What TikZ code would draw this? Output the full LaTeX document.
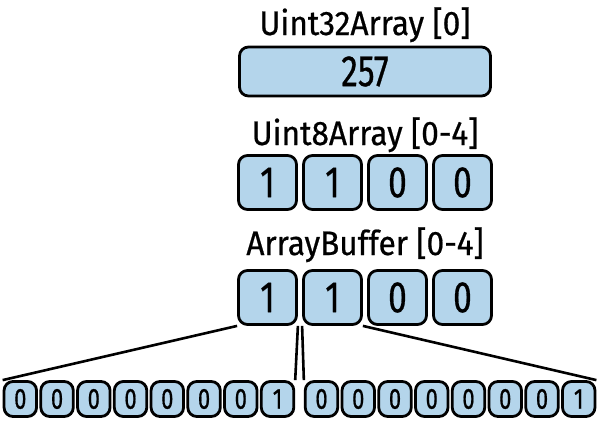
\documentclass[tikz,border=0pt]{standalone}
\usepackage{fontspec}
\setmainfont{Fira Sans}[FakeStretch=0.93, FakeBold=0.6]
\newfontfamily\digitfont{Fira Sans}[FakeStretch=0.76, FakeBold=0.6]
\usepackage{xcolor}
\definecolor{cellblue}{RGB}{180,213,235}
\usetikzlibrary{positioning, backgrounds}

\tikzset{
  cell/.style={draw=black, line width=2.8pt, fill=cellblue, rounded corners=9pt, inner sep=0pt},
  title/.style={font=\fontsize{34}{38}\selectfont, inner sep=0pt, anchor=base},
  bytecell/.style={cell, minimum height=54pt, font=\digitfont\fontsize{44}{48}\selectfont},
  bitcell/.style={cell, minimum width=32.5pt, minimum height=35pt, rounded corners=9pt, font=\digitfont\fontsize{29}{32}\selectfont},
  link/.style={draw=black, line width=2.6pt}
}

\begin{document}
\begin{tikzpicture}[x=1pt, y=-1pt]
  \useasboundingbox (0,0) rectangle (600,421);

  % --- 32-bit view ---
  \node[title] (t32) at (365,35) {Uint32Array [0]};
  \node[bytecell, minimum width=251pt, minimum height=49pt] (u32) at (365,71.5) {257};

  % --- 8-bit view ---
  \node[title] (t8) at (365,145) {Uint8Array [0-4]};
  \foreach \v [count=\i from 0] in {1,1,0,0}
    \node[bytecell, minimum width=58pt] (u8-\i) at (267.5+65*\i,182.5) {\v};

  % --- raw buffer ---
  \node[title] (tab) at (365,255) {ArrayBuffer [0-4]};
  \foreach \v [count=\i from 0] in {1,1,0,0}
    \node[bytecell, minimum width=58pt] (ab-\i) at (267.5+65*\i,297.5) {\v};

  % --- bits of the first two bytes ---
  \foreach \v [count=\i from 0] in {0,0,0,0,0,0,0,1} {
    \node[bitcell] (bitsA-\i) at (20.3+36.75*\i,399) {\v};
    \node[bitcell] (bitsB-\i) at (321.5+36.75*\i,399) {\v};
  }

  % Fan-out lines
  \begin{scope}[on background layer]
    \draw[link] (ab-0.south west) -- (bitsA-0.north west);
    \draw[link] (ab-0.south east) -- (bitsA-7.north east);
    \draw[link] (ab-1.south west) -- (bitsB-0.north west);
    \draw[link] (ab-1.south east) -- (bitsB-7.north east);
  \end{scope}
\end{tikzpicture}
\end{document}
